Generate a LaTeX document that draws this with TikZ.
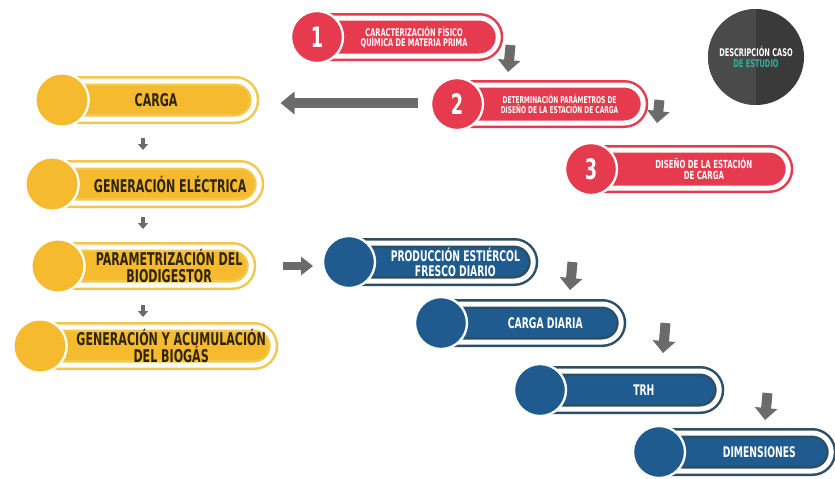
\documentclass[tikz,border=0pt]{standalone}
\usepackage{fontspec}
\newfontfamily\angosta{DejaVu Sans Condensed Bold}[FakeStretch=0.7]
\usepackage{tikz}
\usetikzlibrary{shapes.misc,arrows.meta,calc}

\definecolor{rojo}{HTML}{E63A4F}
\definecolor{amarillo}{HTML}{F5BA2D}
\definecolor{amarilloborde}{HTML}{F2C84B}
\definecolor{azul}{HTML}{1F5B8E}
\definecolor{azulborde}{HTML}{2C4F66}
\definecolor{gris}{HTML}{6B6B6B}
\definecolor{oscuro}{HTML}{3A3A3A}
\definecolor{oscuroclaro}{HTML}{4A4A4A}
\definecolor{verde}{HTML}{2DB39B}
\definecolor{cafe}{HTML}{2E2510}

\tikzset{
  banda/.style 2 args={rounded rectangle, rounded rectangle left arc=none,
    fill=#1, draw=#2, double=white, double distance=1.5mm, line width=0.75mm,
    minimum height=11.4mm, inner sep=0pt, anchor=west},
  bola/.style={circle, fill=#1, draw=white, line width=0.7mm,
    minimum size=15.6mm, inner sep=0pt, text=white,
    font=\angosta\fontsize{24}{24}\selectfont},
  txt/.style={align=center, inner sep=0pt, text=#1},
  flecha/.style={draw=gris, line width=3mm, -{Triangle[length=3.6mm, width=6.6mm]}},
  flechita/.style={draw=gris, line width=1.2mm, -{Triangle[length=1.8mm, width=3mm]}},
}

\begin{document}
\begin{tikzpicture}[x=0.3mm, y=-0.3mm]
\useasboundingbox (0,0) rectangle (835,478);

% pasos en rojo
\node[banda={rojo}{rojo}, minimum width=54mm] (r1) at (317,37) {};
\node[bola=rojo] (r1n) at (r1.west) {1};
\node[txt=white, font=\angosta\fontsize{9}{8.5}\selectfont] (r1t) at ($(r1n.east)!.45!(r1.east)$)
  {CARACTERIZACIÓN FÍSICO\\QUÍMICA DE MATERIA PRIMA};

\node[banda={rojo}{rojo}, minimum width=55.5mm] (r2) at (457,104) {};
\node[bola=rojo] (r2n) at (r2.west) {2};
\node[txt=white, font=\angosta\fontsize{8}{7.5}\selectfont] (r2t) at ($(r2n.east)!.47!(r2.east)$)
  {DETERMINACIÓN PARÁMETROS DE\\DISEÑO DE LA ESTACIÓN DE CARGA};

\node[banda={rojo}{rojo}, minimum width=58.8mm] (r3) at (591,169) {};
\node[bola=rojo] (r3n) at (r3.west) {3};
\node[txt=white, font=\angosta\fontsize{9.5}{9}\selectfont] (r3t) at ($(r3n.east)!.5!(r3.east)$)
  {DISEÑO DE LA ESTACIÓN\\DE CARGA};

% circulo de descripcion
\node[circle, fill=oscuro, minimum size=28.8mm, inner sep=0pt, align=center,
  font=\angosta\fontsize{9}{9}\selectfont, text=white,
  path picture={\fill[oscuroclaro] (path picture bounding box.north west)
    rectangle (path picture bounding box.south);}] (desc) at (756,57)
  {DESCRIPCIÓN CASO\\\textcolor{verde}{DE ESTUDIO}};

% pasos en amarillo
\node[banda={amarillo}{amarilloborde}, minimum width=57.3mm] (y1) at (62,100) {};
\node[bola=amarillo, minimum size=16mm] (y1c) at (y1.west) {};
\node[txt=cafe, font=\angosta\fontsize{15}{14}\selectfont] (y1t) at ($(y1c.east)!.4!(y1.east)$)
  {CARGA};

\node[banda={amarillo}{amarilloborde}, minimum width=61.8mm] (y2) at (52,184) {};
\node[bola=amarillo, minimum size=16mm] (y2c) at (y2.west) {};
\node[txt=cafe, font=\angosta\fontsize{15}{14}\selectfont] (y2t) at ($(y2c.east)!.5!(y2.east)$)
  {GENERACIÓN ELÉCTRICA};

\node[banda={amarillo}{amarilloborde}, minimum width=57.6mm] (y3) at (58,266) {};
\node[bola=amarillo, minimum size=16mm] (y3c) at (y3.west) {};
\node[txt=cafe, font=\angosta\fontsize{15}{14}\selectfont] (y3t) at ($(y3c.east)!.5!(y3.east)$)
  {PARAMETRIZACIÓN DEL\\BIODIGESTOR};

\node[banda={amarillo}{amarilloborde}, minimum width=69.6mm] (y4) at (40,346) {};
\node[bola=amarillo, minimum size=16mm] (y4c) at (y4.west) {};
\node[txt=cafe, font=\angosta\fontsize{15}{14}\selectfont] (y4t) at ($(y4c.east)!.5!(y4.east)$)
  {GENERACIÓN Y ACUMULACIÓN\\DEL BIOGÁS};

% pasos en azul
\node[banda={azul}{azulborde}, minimum width=54.9mm] (b1) at (349,262) {};
\node[bola=azul] (b1c) at (b1.west) {};
\node[txt=white, font=\angosta\fontsize{12.5}{13}\selectfont] (b1t) at ($(b1c.east)!.5!(b1.east)$)
  {PRODUCCIÓN ESTIÉRCOL\\FRESCO DIARIO};

\node[banda={azul}{azulborde}, minimum width=53.7mm] (b2) at (441,323) {};
\node[bola=azul] (b2c) at (b2.west) {};
\node[txt=white, font=\angosta\fontsize{12.5}{13}\selectfont] (b2t) at ($(b2c.east)!.5!(b2.east)$)
  {CARGA DIARIA};

\node[banda={azul}{azulborde}, minimum width=53.4mm] (b3) at (540,390) {};
\node[bola=azul] (b3c) at (b3.west) {};
\node[txt=white, font=\angosta\fontsize{12.5}{13}\selectfont] (b3t) at ($(b3c.east)!.5!(b3.east)$)
  {TRH};

\node[banda={azul}{azulborde}, minimum width=51.3mm] (b4) at (659,452) {};
\node[bola=azul] (b4c) at (b4.west) {};
\node[txt=white, font=\angosta\fontsize{12.5}{13}\selectfont] (b4t) at ($(b4c.east)!.5!(b4.east)$)
  {DIMENSIONES};

% flechas
\draw[flecha] ($(r1.east)+(11,8)$) -- ($(r2.west)+(51,-32)$);
\draw[flecha] ($(r2.east)+(15,-4)$) -- ($(r3.west)+(66,-46)$);
\draw[flecha, -{Triangle[length=4.2mm, width=6.6mm]}] ($(r2.west)+(-39,-1)$) -- ($(y1.east)+(25,3)$);
\draw[flechita] ($(y1.west)+(81,38)$) -- ($(y2.west)+(91,-34)$);
\draw[flechita] ($(y2.west)+(91,33)$) -- ($(y3.west)+(85,-37)$);
\draw[flechita] ($(y3.west)+(85,39)$) -- ($(y4.west)+(103,-29)$);
\draw[flecha, line width=2.4mm, -{Triangle[length=3.6mm, width=5.4mm]}] ($(y3.east)+(30,0)$) -- ($(b1.west)+(-36,4)$);
\draw[flecha] ($(b1.east)+(38,0)$) -- ($(b2.west)+(129,-33)$);
\draw[flecha] ($(b2.east)+(43,0)$) -- ($(b3.west)+(123,-37)$);
\draw[flecha] ($(b3.east)+(47,3)$) -- ($(b4.west)+(106,-32)$);

\end{tikzpicture}
\end{document}
